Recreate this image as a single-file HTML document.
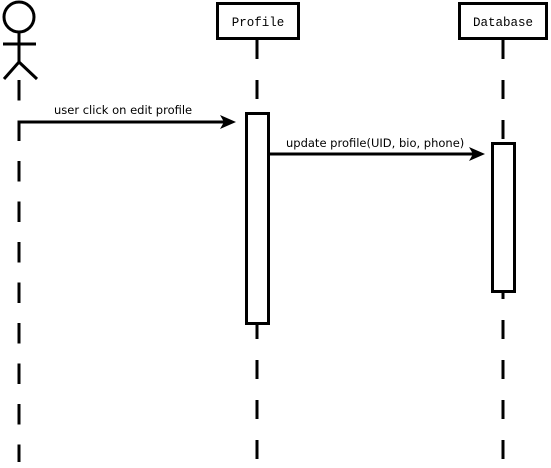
<!DOCTYPE html>
<html><head><meta charset="utf-8"><style>
html,body{margin:0;padding:0;background:#fff;}
svg{display:block;}
</style></head><body>
<svg width="551" height="468" viewBox="0 0 551 468" xmlns="http://www.w3.org/2000/svg">
<g stroke="#000" stroke-width="3" fill="none">
  <circle cx="19" cy="17" r="15" fill="#fff"/>
  <line x1="19" y1="32" x2="19" y2="62"/>
  <line x1="3" y1="44" x2="36" y2="44" />
  <line x1="19" y1="62" x2="4" y2="79"/>
  <line x1="19" y1="62" x2="37" y2="79"/>
  <line x1="19" y1="80" x2="19" y2="462" stroke-dasharray="20.5 20"/>
  <line x1="257" y1="40" x2="257" y2="462" stroke-dasharray="19 21"/>
  <line x1="503" y1="40" x2="503" y2="462" stroke-dasharray="19 21"/>
  <rect x="217.5" y="3.5" width="81" height="35" fill="#fff"/>
  <rect x="459.5" y="3.5" width="87" height="35" fill="#fff"/>
  <rect x="246.5" y="113.5" width="22" height="210" fill="#fff"/>
  <rect x="492.5" y="143.5" width="22" height="148" fill="#fff"/>
  <line x1="19" y1="122" x2="228" y2="122"/>
  <line x1="269" y1="154" x2="476" y2="154"/>
</g>
<polygon points="220,115 236,122 220,129 224,122" fill="#000"/>
<polygon points="469,147 485,154 469,161 473,154" fill="#000"/>
<g font-family="'Liberation Mono', monospace" font-size="12.5" text-anchor="middle" fill="#000">
  <text x="258" y="26">Profile</text>
  <text x="503" y="26">Database</text>
</g>
<g font-family="'DejaVu Sans', 'Liberation Sans', sans-serif" font-size="11.5" fill="#000">
  <text x="54" y="114">user click on edit profile</text>
  <text x="286" y="147">update profile(UID, bio, phone)</text>
</g>
</svg>
</body></html>
